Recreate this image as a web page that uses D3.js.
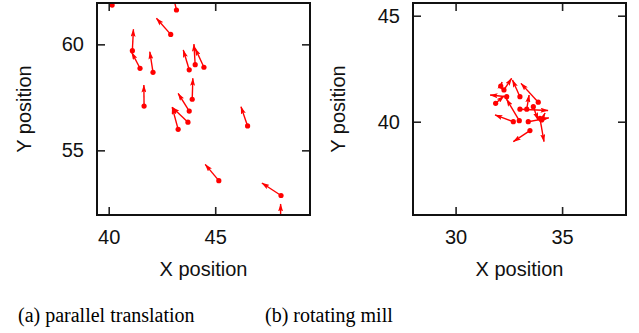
<!DOCTYPE html>
<html>
<head>
<meta charset="utf-8">
<script src="https://cdn.jsdelivr.net/npm/d3@7"></script>
<style>
  body { margin: 0; background: #fff; }
  svg { display: block; }
</style>
</head>
<body>
<div id="chart"></div>
<script>
// (a) parallel translation: tail (dot) and head (arrow tip) of each arrow
const transX0 = [40.16, 43.18, 42.91, 41.11, 41.47, 42.08, 43.78, 44.06, 44.47, 43.92, 41.66, 43.78, 43.72, 43.26, 46.52, 45.17, 48.09, 48.07];
const transY0 = [61.85, 61.62, 60.47, 59.70, 58.87, 58.68, 58.80, 59.04, 58.92, 57.41, 57.09, 56.85, 56.33, 55.99, 56.15, 53.57, 52.87, 51.60];
const transX1 = [40.05, 43.00, 42.24, 41.16, 41.08, 41.93, 43.50, 44.00, 44.06, 43.95, 41.65, 43.26, 42.98, 42.98, 46.21, 44.53, 47.19, 48.07];
const transY1 = [62.55, 62.40, 61.23, 60.71, 59.62, 59.65, 59.73, 60.01, 59.81, 58.40, 58.08, 57.69, 57.03, 57.03, 57.06, 54.34, 53.46, 52.47];

// (b) rotating mill
const millX0 = [32.40, 32.71, 31.88, 32.27, 32.12, 33.88, 33.02, 33.49, 33.96, 33.41, 33.02, 33.34, 32.99, 33.65, 34.04];
const millY0 = [41.18, 40.00, 40.87, 41.50, 41.68, 40.92, 41.18, 39.58, 40.16, 40.00, 40.59, 40.59, 40.05, 40.71, 40.08];
const millX1 = [31.62, 31.85, 32.27, 32.63, 32.18, 33.07, 32.67, 32.71, 34.15, 34.38, 34.34, 33.45, 32.39, 33.87, 34.20];
const millY1 = [41.26, 40.32, 41.21, 42.05, 41.87, 41.81, 41.97, 39.06, 39.06, 40.18, 40.53, 41.26, 41.07, 40.08, 40.41];

const transXTicks = [40, 45];
const transYTicks = [55, 60];
const millXTicks = [30, 35];
const millYTicks = [40, 45];

const xTitle = "X position";
const yTitle = "Y position";
const captions = ["(a) parallel translation", "(b) rotating mill"];

const W = 639, H = 333;
const red = "#ff0000";
const sansFont = "'Liberation Sans', Arial, sans-serif";
const serifFont = "'Liberation Serif', 'Times New Roman', serif";

const panels = [
  {id: "a", left: 97, xDomain: [39.45, 49.45], yDomain: [51.95, 61.95],
   xTicks: transXTicks, yTicks: transYTicks, x0: transX0, y0: transY0, x1: transX1, y1: transY1,
   titleOffset: 66, caption: captions[0], captionX: 18},
  {id: "b", left: 413, xDomain: [28, 38], yDomain: [35.6, 45.6],
   xTicks: millXTicks, yTicks: millYTicks, x0: millX0, y0: millY0, x1: millX1, y1: millY1,
   titleOffset: 68, caption: captions[1], captionX: 265}
];
const plotTop = 3, plotW = 213, plotH = 212;

const svg = d3.select("#chart").append("svg")
  .attr("width", W)
  .attr("height", H);

const defs = svg.append("defs");
defs.append("marker")
  .attr("id", "red-arrow")
  .attr("viewBox", "0 0 8 5")
  .attr("refX", 7.5)
  .attr("refY", 2.5)
  .attr("markerWidth", 8)
  .attr("markerHeight", 5)
  .attr("markerUnits", "userSpaceOnUse")
  .attr("orient", "auto")
  .append("path")
  .attr("d", "M0,0 L8,2.5 L0,5 L1.5,2.5 Z")
  .attr("fill", red);

function drawPanel(p) {
  const x = d3.scaleLinear().domain(p.xDomain).range([p.left, p.left + plotW]);
  const y = d3.scaleLinear().domain(p.yDomain).range([plotTop + plotH, plotTop]);

  defs.append("clipPath")
    .attr("id", "clip-" + p.id)
    .append("rect")
    .attr("x", p.left)
    .attr("y", plotTop)
    .attr("width", plotW)
    .attr("height", plotH);

  const g = svg.append("g").attr("clip-path", "url(#clip-" + p.id + ")");
  const idx = d3.range(p.x0.length);

  g.selectAll(".arrow")
    .data(idx)
    .enter().append("line")
    .attr("x1", i => x(p.x0[i]))
    .attr("y1", i => y(p.y0[i]))
    .attr("x2", i => x(p.x1[i]))
    .attr("y2", i => y(p.y1[i]))
    .attr("stroke", red)
    .attr("stroke-width", 1.4)
    .attr("marker-end", "url(#red-arrow)");

  g.selectAll(".dot")
    .data(idx)
    .enter().append("circle")
    .attr("cx", i => x(p.x0[i]))
    .attr("cy", i => y(p.y0[i]))
    .attr("r", 2.6)
    .attr("fill", red);

  // axes with inward ticks on all four sides
  const bottom = svg.append("g")
    .attr("transform", "translate(0," + (plotTop + plotH) + ")")
    .call(d3.axisBottom(x).tickValues(p.xTicks).tickSizeInner(-8).tickSizeOuter(0).tickPadding(15));
  const top = svg.append("g")
    .attr("transform", "translate(0," + plotTop + ")")
    .call(d3.axisTop(x).tickValues(p.xTicks).tickSizeInner(-8).tickSizeOuter(0).tickFormat(""));
  const leftAx = svg.append("g")
    .attr("transform", "translate(" + p.left + ",0)")
    .call(d3.axisLeft(y).tickValues(p.yTicks).tickSizeInner(-8).tickSizeOuter(0).tickPadding(13));
  const rightAx = svg.append("g")
    .attr("transform", "translate(" + (p.left + plotW) + ",0)")
    .call(d3.axisRight(y).tickValues(p.yTicks).tickSizeInner(-8).tickSizeOuter(0).tickFormat(""));

  [bottom, top, leftAx, rightAx].forEach(a => {
    a.select(".domain").remove();
    a.selectAll(".tick line").attr("stroke", "#222").attr("stroke-width", 1.6);
    a.selectAll(".tick text")
      .attr("fill", "#111")
      .style("font-family", sansFont)
      .style("font-size", "20px");
  });

  svg.append("rect")
    .attr("x", p.left)
    .attr("y", plotTop)
    .attr("width", plotW)
    .attr("height", plotH)
    .attr("fill", "none")
    .attr("stroke", "#111")
    .attr("stroke-width", 2);

  svg.append("text")
    .attr("x", p.left + plotW / 2)
    .attr("y", 276)
    .attr("text-anchor", "middle")
    .style("font-family", sansFont)
    .style("font-size", "20px")
    .attr("fill", "#111")
    .text(xTitle);

  svg.append("text")
    .attr("transform", "translate(" + (p.left - p.titleOffset) + "," + (plotTop + plotH / 2) + ") rotate(-90)")
    .attr("text-anchor", "middle")
    .style("font-family", sansFont)
    .style("font-size", "20px")
    .attr("fill", "#111")
    .text(yTitle);

  svg.append("text")
    .attr("x", p.captionX)
    .attr("y", 321.5)
    .style("font-family", serifFont)
    .style("font-size", "20px")
    .attr("fill", "#000")
    .text(p.caption);
}

panels.forEach(drawPanel);
</script>
</body>
</html>
